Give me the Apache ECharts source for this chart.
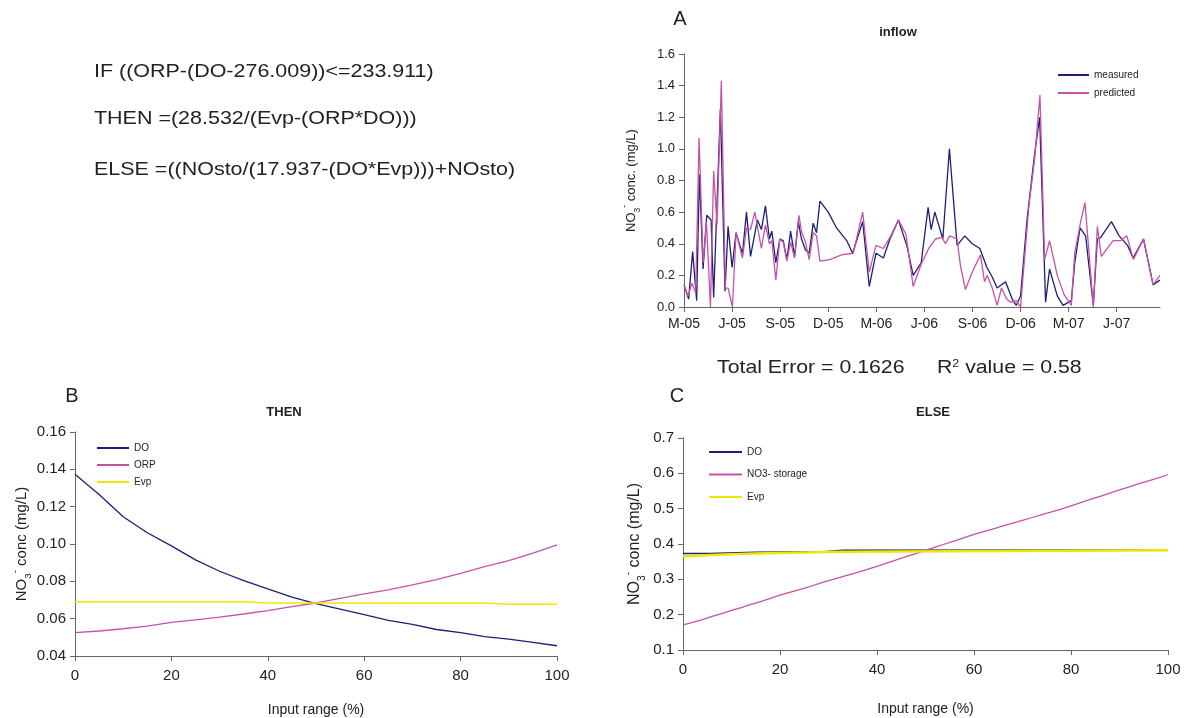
<!DOCTYPE html>
<html><head><meta charset="utf-8">
<script src="https://cdn.jsdelivr.net/npm/echarts@6/dist/echarts.min.js"></script>
<style>html,body{margin:0;padding:0;background:#fff}#c{width:1186px;height:718px}</style>
</head><body><div id="c"></div>
<script>
// ---------- Panel A: inflow (x = months since March 2005) ----------
const quarterLabels = ['M-05','J-05','S-05','D-05','M-06','J-06','S-06','D-06','M-07','J-07'];
const measuredMonths = [0,0.29,0.54,0.79,0.96,1.19,1.42,1.69,1.85,2.27,2.56,2.75,3.0,3.25,3.48,3.65,3.9,4.15,4.58,4.83,5.08,5.33,5.48,5.73,5.98,6.19,6.42,6.65,6.9,7.13,7.33,7.58,7.81,8.06,8.27,8.48,9.0,9.52,10.15,10.52,11.15,11.56,11.98,12.44,12.85,13.38,13.9,14.3,14.8,15.23,15.42,15.65,16.15,16.56,17.04,17.52,17.98,18.46,18.9,19.23,19.54,20.06,20.48,20.73,21.0,21.42,21.88,22.19,22.56,22.81,23.29,23.65,24.17,24.38,24.71,25.06,25.54,25.79,26.0,26.67,27.15,27.67,28.02,28.67,29.27,29.69];
const measuredValues = [0.14,0.05,0.35,0.04,0.84,0.24,0.58,0.55,0.06,1.25,0.10,0.51,0.25,0.47,0.39,0.34,0.60,0.32,0.55,0.49,0.64,0.43,0.48,0.28,0.43,0.42,0.30,0.48,0.32,0.54,0.43,0.36,0.34,0.53,0.47,0.67,0.60,0.50,0.42,0.34,0.54,0.13,0.34,0.31,0.43,0.55,0.39,0.20,0.28,0.63,0.49,0.60,0.43,1.00,0.39,0.45,0.40,0.37,0.25,0.19,0.12,0.16,0.05,0.01,0.07,0.57,0.97,1.20,0.03,0.24,0.07,0.01,0.04,0.28,0.50,0.45,0.01,0.43,0.44,0.54,0.45,0.39,0.31,0.43,0.14,0.17];
const predictedMonths = [0,0.25,0.5,0.73,0.94,1.19,1.4,1.65,1.85,2.06,2.33,2.58,2.75,3.02,3.25,3.65,3.9,4.15,4.42,4.83,5.08,5.33,5.48,5.73,5.98,6.19,6.42,6.65,6.9,7.17,7.33,7.58,7.81,8.06,8.27,8.48,9.1,9.83,10.56,11.15,11.56,11.98,12.44,12.85,13.38,13.85,14.3,14.8,15.27,15.69,16.1,16.31,16.58,17.04,17.25,17.56,17.98,18.5,18.75,18.92,19.23,19.54,19.81,20.13,20.38,20.73,21.0,21.52,21.88,22.21,22.5,22.81,23.29,23.71,24.17,24.38,24.75,25.02,25.54,25.79,26.04,26.77,27.25,27.63,28.04,28.67,29.27,29.69];
const predictedValues = [0.14,0.07,0.15,0.09,1.07,0.28,0.54,0.0,0.86,0.52,1.43,0.12,0.12,0.0,0.47,0.31,0.50,0.49,0.60,0.37,0.52,0.40,0.42,0.17,0.43,0.41,0.29,0.41,0.31,0.58,0.48,0.41,0.30,0.47,0.45,0.29,0.30,0.33,0.34,0.60,0.22,0.39,0.37,0.44,0.55,0.46,0.13,0.27,0.37,0.43,0.44,0.40,0.45,0.43,0.26,0.11,0.22,0.33,0.16,0.20,0.12,0.01,0.12,0.05,0.03,0.04,0.0,0.64,0.94,1.34,0.30,0.42,0.20,0.08,0.01,0.34,0.54,0.66,0.0,0.51,0.32,0.42,0.42,0.45,0.30,0.43,0.14,0.20];

// ---------- Panel B: THEN ----------
const thenInput = [0,5,10,15,20,25,30,35,40,45,50,55,60,65,70,75,80,85,90,95,100];
const thenDO  = [0.1374,0.1265,0.1146,0.1060,0.0990,0.0915,0.0854,0.0804,0.0759,0.0716,0.0680,0.0651,0.0622,0.0591,0.0570,0.0542,0.0525,0.0504,0.0490,0.0473,0.0455];
const thenORP = [0.0525,0.0534,0.0546,0.0560,0.0580,0.0594,0.0608,0.0625,0.0643,0.0665,0.0684,0.0709,0.0733,0.0754,0.0781,0.0809,0.0842,0.0879,0.0911,0.0951,0.0995];
const thenEvp = [0.0690,0.0690,0.0690,0.0690,0.0690,0.0690,0.0690,0.0690,0.0684,0.0684,0.0684,0.0684,0.0684,0.0684,0.0684,0.0684,0.0684,0.0684,0.0677,0.0677,0.0677];

// ---------- Panel C: ELSE ----------
const elseInput = [0,2,4,6,8,10,12,14,16,18,20,22,24,26,28,30,32,34,36,38,40,42,44,46,48,50,52,54,56,58,60,62,64,66,68,70,72,74,76,78,80,82,84,86,88,90,92,94,96,98,100];
const elseStorage = [0.171,0.178,0.186,0.195,0.203,0.212,0.220,0.229,0.237,0.246,0.255,0.263,0.271,0.279,0.288,0.296,0.304,0.312,0.320,0.328,0.337,0.346,0.355,0.364,0.373,0.382,0.391,0.400,0.409,0.418,0.427,0.435,0.443,0.451,0.459,0.467,0.475,0.483,0.491,0.499,0.508,0.517,0.526,0.535,0.544,0.553,0.562,0.571,0.579,0.587,0.596];
const elseDOInput = [0,5.5,15,29,33,100];
const elseDO      = [0.373,0.377,0.378,0.382,0.383,0.383];
const elseEvpInput = [0,1.5,5.5,14.5,33,100];
const elseEvp      = [0.365,0.369,0.373,0.378,0.382,0.382];

const NAVY = '#1e1e78', PINK = '#c652a8', YELLOW = '#f0e600';
const FONT = '"Liberation Sans", Arial, sans-serif';
const zip = (xs, ys) => xs.map((x, i) => [x, ys[i]]);

const axisBase = {
  axisLine: { show: true, lineStyle: { color: '#666', width: 1 } },
  axisTick: { show: true, inside: false, length: 5, lineStyle: { color: '#666' } },
  splitLine: { show: false }
};
const yName = (conc, size) => ({
  name: 'NO{sub|3}{sup|-} ' + conc + ' (mg/L)',
  nameLocation: 'middle', nameRotate: 90,
  nameTextStyle: {
    fontSize: size, color: '#222', fontFamily: FONT, lineHeight: size + 8,
    rich: {
      sub: { fontSize: size * 0.65, lineHeight: size * 0.65, verticalAlign: 'bottom', color: '#222', fontFamily: FONT },
      sup: { fontSize: size * 0.65, lineHeight: size * 0.65, verticalAlign: 'top', color: '#222', fontFamily: FONT }
    }
  }
});
const legendText = { fontSize: 10, color: '#222', lineHeight: 12 };

const option = {
  animation: false,
  backgroundColor: '#fff',
  textStyle: { fontFamily: FONT },
  grid: [
    { left: 684, top: 54, width: 476, height: 253 },
    { left: 75, top: 432, width: 482, height: 231 },
    { left: 683, top: 438, width: 485, height: 212 }
  ],
  xAxis: [
    Object.assign({}, axisBase, {
      gridIndex: 0, type: 'value', min: 0, max: 29.7, interval: 3,
      axisLabel: { fontSize: 14, color: '#222', margin: 10, showMaxLabel: false,
        formatter: v => { const k = Math.round(v / 3); return Math.abs(v / 3 - k) < 1e-6 ? (quarterLabels[k] || '') : ''; } }
    }),
    Object.assign({}, axisBase, {
      gridIndex: 1, type: 'value', min: 0, max: 100, interval: 20,
      name: 'Input range (%)', nameLocation: 'middle', nameGap: 47,
      nameTextStyle: { fontSize: 14, color: '#222' },
      axisLabel: { fontSize: 15, color: '#222', margin: 12 }
    }),
    Object.assign({}, axisBase, {
      gridIndex: 2, type: 'value', min: 0, max: 100, interval: 20,
      name: 'Input range (%)', nameLocation: 'middle', nameGap: 52,
      nameTextStyle: { fontSize: 14, color: '#222' },
      axisLabel: { fontSize: 15, color: '#222', margin: 12 }
    })
  ],
  yAxis: [
    Object.assign({}, axisBase, yName('conc.', 13), {
      gridIndex: 0, type: 'value', min: 0, max: 1.6, interval: 0.2, nameGap: 42,
      axisLabel: { fontSize: 13, color: '#222', margin: 9, formatter: v => v.toFixed(1) }
    }),
    Object.assign({}, axisBase, yName('conc', 15), {
      gridIndex: 1, type: 'value', min: 0.04, max: 0.16, interval: 0.02, nameGap: 42,
      axisLabel: { fontSize: 15, color: '#222', margin: 9, formatter: v => v.toFixed(2) }
    }),
    Object.assign({}, axisBase, yName('conc', 16), {
      gridIndex: 2, type: 'value', min: 0.1, max: 0.7, interval: 0.1, nameGap: 36,
      axisLabel: { fontSize: 15, color: '#222', margin: 9, formatter: v => v.toFixed(1) }
    })
  ],
  legend: [
    { orient: 'vertical', left: 1058, top: 69, padding: 0, icon: 'rect', itemWidth: 31, itemHeight: 2, itemGap: 6,
      textStyle: legendText, data: ['measured', 'predicted'] },
    { orient: 'vertical', left: 97, top: 442, padding: 0, icon: 'rect', itemWidth: 32, itemHeight: 2, itemGap: 5,
      textStyle: legendText, data: ['DO', 'ORP', 'Evp'] },
    { orient: 'vertical', left: 709, top: 446, padding: 0, icon: 'rect', itemWidth: 33, itemHeight: 2, itemGap: 10.5,
      textStyle: legendText, data: ['DO', 'NO3- storage', 'Evp'] }
  ],
  series: [
    { name: 'measured', type: 'line', xAxisIndex: 0, yAxisIndex: 0, symbol: 'none',
      data: zip(measuredMonths, measuredValues), itemStyle: { color: NAVY }, lineStyle: { color: NAVY, width: 1.3 } },
    { name: 'predicted', type: 'line', xAxisIndex: 0, yAxisIndex: 0, symbol: 'none',
      data: zip(predictedMonths, predictedValues), itemStyle: { color: PINK }, lineStyle: { color: PINK, width: 1.3 } },

    { name: 'DO', type: 'line', xAxisIndex: 1, yAxisIndex: 1, symbol: 'none',
      data: zip(thenInput, thenDO), itemStyle: { color: NAVY }, lineStyle: { color: NAVY, width: 1.3 } },
    { name: 'ORP', type: 'line', xAxisIndex: 1, yAxisIndex: 1, symbol: 'none',
      data: zip(thenInput, thenORP), itemStyle: { color: PINK }, lineStyle: { color: PINK, width: 1.3 } },
    { name: 'Evp', type: 'line', xAxisIndex: 1, yAxisIndex: 1, symbol: 'none',
      data: zip(thenInput, thenEvp), itemStyle: { color: YELLOW }, lineStyle: { color: YELLOW, width: 1.5 } },

    { name: 'DO', type: 'line', xAxisIndex: 2, yAxisIndex: 2, symbol: 'none', step: 'end',
      data: zip(elseDOInput, elseDO), itemStyle: { color: NAVY }, lineStyle: { color: NAVY, width: 1.5 } },
    { name: 'NO3- storage', type: 'line', xAxisIndex: 2, yAxisIndex: 2, symbol: 'none',
      data: zip(elseInput, elseStorage), itemStyle: { color: PINK }, lineStyle: { color: PINK, width: 1.3 } },
    { name: 'Evp', type: 'line', xAxisIndex: 2, yAxisIndex: 2, symbol: 'none', step: 'end',
      data: zip(elseEvpInput, elseEvp), itemStyle: { color: YELLOW }, lineStyle: { color: YELLOW, width: 2.5 } }
  ],
  graphic: [
    { type: 'text', x: 94, y: 72, scaleX: 1.13, style: { text: 'IF ((ORP-(DO-276.009))<=233.911)', font: '19px ' + FONT, fill: '#222', verticalAlign: 'middle' } },
    { type: 'text', x: 94, y: 119, scaleX: 1.13, style: { text: 'THEN =(28.532/(Evp-(ORP*DO)))', font: '19px ' + FONT, fill: '#222', verticalAlign: 'middle' } },
    { type: 'text', x: 94, y: 170, scaleX: 1.13, style: { text: 'ELSE =((NOsto/(17.937-(DO*Evp)))+NOsto)', font: '19px ' + FONT, fill: '#222', verticalAlign: 'middle' } },
    { type: 'text', x: 680, y: 19, style: { text: 'A', font: '20px ' + FONT, fill: '#222', align: 'center', verticalAlign: 'middle' } },
    { type: 'text', x: 72, y: 396, style: { text: 'B', font: '20px ' + FONT, fill: '#222', align: 'center', verticalAlign: 'middle' } },
    { type: 'text', x: 677, y: 396, style: { text: 'C', font: '20px ' + FONT, fill: '#222', align: 'center', verticalAlign: 'middle' } },
    { type: 'text', x: 898, y: 32, style: { text: 'inflow', font: 'bold 13px ' + FONT, fill: '#222', align: 'center', verticalAlign: 'middle' } },
    { type: 'text', x: 284, y: 412, style: { text: 'THEN', font: 'bold 13px ' + FONT, fill: '#222', align: 'center', verticalAlign: 'middle' } },
    { type: 'text', x: 933, y: 412, style: { text: 'ELSE', font: 'bold 13px ' + FONT, fill: '#222', align: 'center', verticalAlign: 'middle' } },
    { type: 'text', x: 717, y: 368, scaleX: 1.12, style: {
        text: 'Total Error = 0.1626', font: '19px ' + FONT, fill: '#222', verticalAlign: 'middle' } },
    { type: 'text', x: 937, y: 368, scaleX: 1.12, style: {
        text: 'R{sup|2} value = 0.58',
        font: '19px ' + FONT, fill: '#222', verticalAlign: 'middle',
        rich: { sup: { fontSize: 11, lineHeight: 11, verticalAlign: 'top', fill: '#222', fontFamily: FONT } }
    } }
  ]
};
echarts.init(document.getElementById('c')).setOption(option);
</script>
</body></html>
